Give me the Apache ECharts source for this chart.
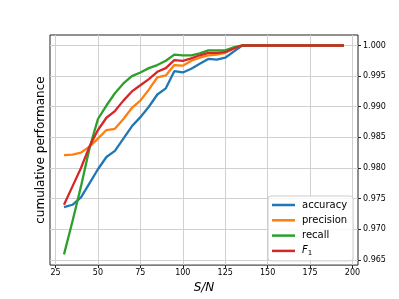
<!DOCTYPE html>
<html>
<head>
<meta charset="utf-8">
<script src="https://cdn.jsdelivr.net/npm/echarts@6/dist/echarts.min.js"></script>
<style>html,body{margin:0;padding:0;background:#fff;}#c{width:399px;height:299px;}</style>
</head>
<body>
<div id="c"></div>
<script>
var snr = [30,35,40,45,50,55,60,65,70,75,80,85,90,95,100,105,110,115,120,125,130,135,140,145,150,155,160,165,170,175,180,185,190,195];
var accuracy = [0.9736,0.9740,0.9752,0.9775,0.9798,0.9818,0.9828,0.9848,0.9868,0.9883,0.9900,0.9920,0.9930,0.9958,0.9956,0.9962,0.9970,0.9978,0.9977,0.9980,0.9990,1.0,1.0,1.0,1.0,1.0,1.0,1.0,1.0,1.0,1.0,1.0,1.0,1.0];
var precision = [0.9821,0.9822,0.9825,0.9835,0.9848,0.9862,0.9864,0.9880,0.9898,0.9910,0.9928,0.9948,0.9951,0.9968,0.9967,0.9975,0.9980,0.9984,0.9985,0.9988,0.9995,1.0,1.0,1.0,1.0,1.0,1.0,1.0,1.0,1.0,1.0,1.0,1.0,1.0];
var recall = [0.9659,0.9713,0.9770,0.9832,0.9880,0.9902,0.9922,0.9938,0.9950,0.9956,0.9963,0.9968,0.9975,0.9985,0.9984,0.9984,0.9987,0.9992,0.9992,0.9992,0.9997,1.0,1.0,1.0,1.0,1.0,1.0,1.0,1.0,1.0,1.0,1.0,1.0,1.0];
var f1 = [0.9740,0.9770,0.9800,0.9835,0.9862,0.9882,0.9893,0.9910,0.9925,0.9935,0.9945,0.9957,0.9963,0.9976,0.9975,0.9979,0.9984,0.9988,0.9988,0.9989,0.9995,1.0,1.0,1.0,1.0,1.0,1.0,1.0,1.0,1.0,1.0,1.0,1.0,1.0];
var xTicks = [25,50,75,100,125,150,175,200];
var yTicks = [0.965,0.970,0.975,0.980,0.985,0.990,0.995,1.000];
var seriesNames = ['accuracy','precision','recall','F1'];
var colors = ['#1f77b4','#ff7f0e','#2ca02c','#d62728'];

function pairs(xs, ys){ return xs.map(function(x,i){ return [x, ys[i]]; }); }
var allY = [accuracy, precision, recall, f1];
var font = 'DejaVu Sans';

var chart = echarts.init(document.getElementById('c'), null, {renderer:'canvas'});
chart.setOption({
  animation: false,
  backgroundColor: '#fff',
  grid: {left: 50, right: 41, top: 35, bottom: 33, show: true, borderColor: '#222', borderWidth: 1, backgroundColor: 'transparent'},
  xAxis: {
    type: 'value', min: 21.75, max: 203.25,
    name: 'S/N', nameLocation: 'middle', nameGap: 11,
    nameTextStyle: {fontFamily: font, fontSize: 12, fontStyle: 'italic', color: '#000'},
    axisLine: {show: false},
    axisTick: {show: true, customValues: xTicks, length: 3, lineStyle: {color: '#222', width: 1}},
    axisLabel: {customValues: xTicks, fontFamily: font, fontSize: 8, color: '#000', margin: 4},
    splitLine: {show: true, lineStyle: {color: '#d0d0d0', width: 1}}
  },
  yAxis: [{
    type: 'value', position: 'right', min: 0.96415, max: 1.00171,
    axisLine: {show: false},
    axisTick: {show: true, customValues: yTicks, length: 3, lineStyle: {color: '#222', width: 1}},
    axisLabel: {customValues: yTicks, fontFamily: font, fontSize: 8, color: '#000', margin: 5,
      formatter: function(v){ return v.toFixed(3); }},
    splitLine: {show: true, lineStyle: {color: '#d0d0d0', width: 1}}
  },{
    type: 'value', position: 'left', min: 0.96415, max: 1.00171,
    name: 'cumulative performance', nameLocation: 'middle', nameGap: 3, nameRotate: 90,
    nameTextStyle: {fontFamily: font, fontSize: 12, color: '#000'},
    axisLine: {show: false}, axisTick: {show: false}, axisLabel: {show: false}, splitLine: {show: false}
  }],
  legend: {
    orient: 'vertical', left: 268, top: 196,
    padding: [3, 6, 4, 4], itemGap: 3.3, itemWidth: 23, itemHeight: 2.5,
    backgroundColor: 'rgba(255,255,255,0.85)', borderColor: '#ccc', borderWidth: 1, borderRadius: 3,
    icon: 'rect',
    data: seriesNames,
    formatter: function(n){ return n === 'F1' ? '{i|F}{s|1}' : n; },
    textStyle: {fontFamily: font, fontSize: 10, color: '#000', lineHeight: 12, padding: [0,0,0,2],
      rich: {i: {fontFamily: font, fontSize: 10, fontStyle: 'italic', color: '#000'},
             s: {fontFamily: font, fontSize: 7, color: '#000', padding: [5,0,0,0]}}}
  },
  series: seriesNames.map(function(n, i){
    return {
      name: n, type: 'line', data: pairs(snr, allY[i]), symbol: 'none', showSymbol: false,
      color: colors[i], lineStyle: {color: colors[i], width: 2.3}, z: 2 + i
    };
  })
});
</script>
</body>
</html>
